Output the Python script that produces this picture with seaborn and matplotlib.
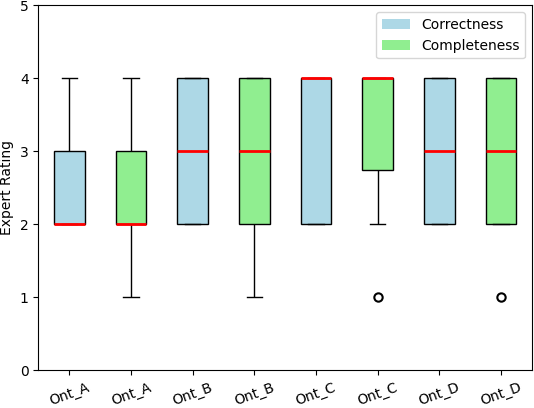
import pandas as pd
import seaborn as sns
import matplotlib.pyplot as plt
from matplotlib.patches import Patch

# expert ratings (12 experts) per ontology and criterion
ont_a_corr = [2, 2, 2, 2, 2, 2, 2, 3, 3, 3, 4, 4]
ont_a_comp = [1, 1, 2, 2, 2, 2, 2, 3, 3, 3, 4, 4]
ont_b_corr = [2, 2, 2, 2, 3, 3, 3, 3, 4, 4, 4, 4]
ont_b_comp = [1, 1, 2, 2, 3, 3, 3, 3, 4, 4, 4, 4]
ont_c_corr = [2, 2, 2, 2, 3, 4, 4, 4, 4, 4, 4, 4]
ont_c_comp = [1, 2, 2, 3, 4, 4, 4, 4, 4, 4, 4, 4]
ont_d_corr = [2, 2, 2, 2, 3, 3, 3, 3, 4, 4, 4, 4]
ont_d_comp = [1, 2, 2, 2, 3, 3, 3, 3, 4, 4, 4, 4]

series = [ont_a_corr, ont_a_comp, ont_b_corr, ont_b_comp,
          ont_c_corr, ont_c_comp, ont_d_corr, ont_d_comp]
tick_labels = ['Ont_A', 'Ont_A', 'Ont_B', 'Ont_B', 'Ont_C', 'Ont_C', 'Ont_D', 'Ont_D']
metrics = ['Correctness', 'Completeness'] * 4
colors = {'Correctness': 'lightblue', 'Completeness': 'lightgreen'}

rows = []
for i, vals in enumerate(series):
    for v in vals:
        rows.append({'box': str(i), 'metric': metrics[i], 'rating': v})
df = pd.DataFrame(rows)

fig, ax = plt.subplots(figsize=(5.34, 4.08), dpi=100)
sns.boxplot(data=df, x='box', y='rating', hue='metric', palette=colors,
            dodge=False, width=0.5, saturation=1, linecolor='black',
            linewidth=1, whis=(5, 95), legend=False, ax=ax,
            medianprops={'color': 'red', 'linewidth': 2},
            flierprops={'marker': 'o', 'markerfacecolor': 'none',
                        'markeredgecolor': 'black', 'markersize': 6,
                        'markeredgewidth': 1.5})

ax.set_xticks(range(len(tick_labels)))
ax.set_xticklabels(tick_labels, rotation=20)
ax.set_xlabel('')
ax.set_ylabel('Expert Rating')
ax.set_ylim(0, 5)
ax.legend(handles=[Patch(facecolor='lightblue', label='Correctness'),
                   Patch(facecolor='lightgreen', label='Completeness')],
          loc='upper right')

fig.subplots_adjust(left=0.072, right=0.996, top=0.987, bottom=0.092)
plt.savefig('out.png')
